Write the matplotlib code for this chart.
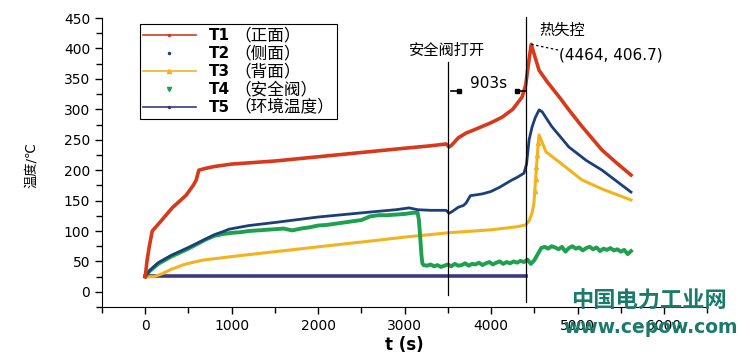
import matplotlib
matplotlib.use("Agg")
import matplotlib.pyplot as plt
from matplotlib.lines import Line2D

plt.rcParams['font.family'] = ['DejaVu Sans', 'Noto Sans CJK SC']

# T1 front face
t1_t = [0, 20, 46, 81, 162, 312, 474, 560, 590, 620, 700, 800, 1000, 1200, 1500, 2000, 2500,
        3000, 3300, 3480, 3515, 3550, 3620, 3711, 3800, 3900, 4000, 4127, 4250, 4358, 4400,
        4430, 4464, 4510, 4555, 4650, 4800, 4900, 5050, 5283, 5450, 5618]
t1_v = [25, 50, 74, 100, 113, 138, 159, 176, 184, 200, 203, 206, 210, 212, 215, 222, 229,
        236, 240, 243, 238, 242, 253, 261, 266, 272, 278, 287, 300, 320, 340,
        372, 406.7, 385, 364, 345, 318, 299, 272, 233, 212, 192]

# T2 side face
t2_t = [0, 50, 150, 300, 500, 700, 800, 900, 970, 1200, 1500, 2000, 2590, 2900, 3052, 3150,
        3300, 3480, 3514, 3560, 3620, 3680, 3711, 3760, 3900, 4000, 4100, 4243, 4300, 4380,
        4410, 4440, 4474, 4510, 4555, 4590, 4700, 4900, 5100, 5283, 5450, 5618]
t2_v = [25, 35, 48, 60, 73, 87, 94, 99, 103, 109, 114, 123, 131, 135, 138, 135,
        134, 134, 129, 133, 139, 142, 146, 158, 161, 165, 172, 184, 188, 195,
        210, 250, 271, 286, 299, 296, 272, 238, 216, 200, 182, 164]

# T3 back face
t3_t = [0, 100, 200, 300, 450, 660, 1000, 1500, 2000, 2700, 3000, 3500, 4000, 4300, 4400,
        4440, 4474, 4495, 4505, 4515, 4525, 4535, 4545, 4555, 4590, 4635, 4800, 5050, 5300,
        5450, 5618]
t3_v = [25, 25, 30, 37, 45, 52, 58, 66, 74, 85, 90, 97, 102, 107, 110,
        117, 130, 145, 165, 185, 205, 225, 245, 258, 246, 230, 212, 184, 168,
        160, 151]
t3_spike_t = [4505, 4515, 4525, 4535, 4545]
t3_spike_v = [165, 185, 205, 225, 245]

# T4 safety valve
t4_t = [0, 50, 150, 300, 500, 700, 800, 900, 1000, 1100, 1200, 1300, 1400, 1500, 1600, 1700,
        1800, 1900, 2000, 2100, 2200, 2300, 2400, 2500, 2600, 2700, 2800, 2900, 3000, 3100,
        3150, 3165, 3175, 3185, 3195, 3205, 3220,
        3260, 3300, 3340, 3380, 3420, 3460, 3500, 3540, 3580, 3620, 3660, 3700, 3740, 3780,
        3820, 3860, 3900, 3940, 3980, 4020, 4060, 4100, 4140, 4180, 4220, 4260, 4300, 4340,
        4380, 4420, 4460, 4500, 4540, 4580, 4620, 4660, 4700, 4740, 4780, 4820, 4860, 4900,
        4940, 4980, 5020, 5060, 5100, 5140, 5180, 5220, 5260, 5300, 5340, 5380, 5420, 5460,
        5500, 5540, 5580, 5618]
t4_v = [25, 34, 46, 58, 71, 86, 92, 95, 97, 98, 100, 101, 102, 103, 104, 101,
        104, 106, 109, 110, 112, 114, 116, 118, 124, 126, 126, 127, 128, 130,
        130, 118, 100, 80, 60, 47, 44,
        43, 45, 42, 44, 41, 43, 45, 42, 46, 43, 44, 47, 43, 46,
        45, 48, 44, 47, 49, 45, 48, 50, 46, 49, 47, 50, 48, 51,
        49, 53, 46, 52, 62, 72, 74, 71, 75, 73, 70, 74, 66, 72,
        75, 71, 73, 68, 72, 74, 70, 73, 67, 71, 69, 72, 68, 70,
        66, 69, 62, 67]

# T5 ambient
t5_t = [0, 1000, 2000, 3000, 4000, 4400]
t5_v = [25.5, 25.5, 25.5, 25.5, 25.5, 25.5]

series_ids = ['T1', 'T2', 'T3', 'T4', 'T5']
series_names = ['（正面）', '（侧面）', '（背面）', '（安全阀）', '（环境温度）']

c_red, c_blue, c_yel, c_grn, c_pur = '#d8391c', '#1b3f78', '#f3b31f', '#1ea14e', '#3b3a7e'

fig = plt.figure(figsize=(7.5, 3.6), dpi=100)
ax = fig.add_axes([0.136, 0.147, 0.807, 0.803])

ax.plot(t5_t, t5_v, color=c_pur, lw=2.6)
ax.plot(t3_t, t3_v, color=c_yel, lw=2.2)
ax.plot(t3_spike_t, t3_spike_v, ls='none', marker='^', ms=3, color=c_yel)
ax.plot(t4_t, t4_v, color=c_grn, lw=2.8)
ax.plot(t2_t, t2_v, color=c_blue, lw=2.0)
ax.plot(t1_t, t1_v, color=c_red, lw=2.6)

ax.set_xlim(-500, 6500)
ax.set_ylim(-25, 450)
ax.set_xticks(range(0, 7000, 1000))
ax.set_xticks(range(-500, 6600, 1000), minor=True)
ax.set_yticks(range(0, 451, 50))
ax.set_yticks(range(-25, 450, 50), minor=True)
ax.tick_params(labelsize=10, direction='out', length=5, width=1)
ax.tick_params(which='minor', length=4, width=1)
for s in ['top', 'right']:
    ax.spines[s].set_visible(False)

ax.set_xlabel('t (s)', fontsize=12, fontweight='bold', labelpad=2)
ax.set_ylabel('温度/℃', fontsize=9.5)
ax.yaxis.set_label_coords(-0.105, 0.49)

# event markers
ax.plot([3500, 3500], [-5, 378], color='black', lw=0.9, clip_on=False)
ax.plot([4400, 4400], [-16, 452], color='black', lw=0.9, clip_on=False)
ax.plot([3537, 3630], [330, 330], color='black', lw=1.2)
ax.plot([3630], [330], marker='s', ms=3, color='black')
ax.plot([4300, 4405], [330, 330], color='black', lw=1.2)
ax.plot([4300], [330], marker='s', ms=3, color='black')
ax.text(3965, 342, '903s', fontsize=11, ha='center', va='center')
ax.text(3050, 396, '安全阀打开', fontsize=11, ha='left', va='center')
ax.text(4560, 430, '热失控', fontsize=11, ha='left', va='center')
ax.plot([4464, 4790], [406.7, 397], color='black', lw=0.9, ls=(0, (2, 2)))
ax.text(4790, 389, '(4464, 406.7)', fontsize=11, ha='left', va='center')

handles = [
    Line2D([], [], color=c_red, lw=1.2, marker='.', ms=3),
    Line2D([], [], color=c_blue, ls='none', marker='.', ms=3),
    Line2D([], [], color=c_yel, lw=1.2, marker='^', ms=3),
    Line2D([], [], color=c_grn, ls='none', marker='v', ms=3),
    Line2D([], [], color=c_pur, lw=1.2, marker='.', ms=3),
]
leg = ax.legend(handles, series_names, loc='upper left', bbox_to_anchor=(0.187, 0.933),
                bbox_transform=fig.transFigure, fontsize=12, frameon=True, fancybox=False,
                edgecolor='black', framealpha=1, handlelength=3.2, labelspacing=0.0,
                borderpad=0.15, handletextpad=2.3, borderaxespad=0)
leg.get_frame().set_linewidth(0.8)
# bold series id in front of each label
for txt, sid in zip(leg.get_texts(), series_ids):
    ax.annotate(sid, xy=(0, 0.5), xycoords=txt, xytext=(-3, 0), textcoords='offset points',
                ha='right', va='center', fontsize=11, fontweight='bold', zorder=10)

# source watermark
fig.text(0.762, 0.162, '中国电力工业网', fontsize=16, fontweight='bold', color='#1b7a6b',
         family=['Noto Sans CJK SC'], ha='left', va='center')
fig.text(0.751, 0.09, 'www.cepow.com', fontsize=13.5, fontweight='bold', color='#1b7a6b',
         ha='left', va='center')

fig.savefig('out.png', dpi=100)
